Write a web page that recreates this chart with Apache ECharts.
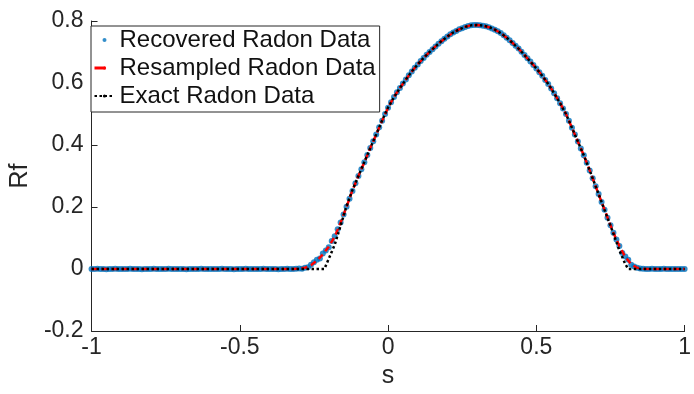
<!DOCTYPE html>
<html>
<head>
<meta charset="utf-8">
<script src="https://cdn.jsdelivr.net/npm/echarts@6/dist/echarts.min.js"></script>
<style>
html,body{margin:0;padding:0;background:#fff;}
#chart{width:694px;height:394px;}
</style>
</head>
<body>
<div id="chart"></div>
<script>
// ---- Data ----
const xTicks = [-1, -0.5, 0, 0.5, 1];
const yTicks = [-0.2, 0, 0.2, 0.4, 0.6, 0.8];

// Recovered Radon Data (blue dots)
const sRecovered = [
-1.00,-0.99,-0.98,-0.97,-0.96,-0.95,-0.94,-0.93,-0.92,-0.91,
-0.90,-0.89,-0.88,-0.87,-0.86,-0.85,-0.84,-0.83,-0.82,-0.81,
-0.80,-0.79,-0.78,-0.77,-0.76,-0.75,-0.74,-0.73,-0.72,-0.71,
-0.70,-0.69,-0.68,-0.67,-0.66,-0.65,-0.64,-0.63,-0.62,-0.61,
-0.60,-0.59,-0.58,-0.57,-0.56,-0.55,-0.54,-0.53,-0.52,-0.51,
-0.50,-0.49,-0.48,-0.47,-0.46,-0.45,-0.44,-0.43,-0.42,-0.41,
-0.40,-0.39,-0.38,-0.37,-0.36,-0.35,-0.34,-0.33,-0.32,-0.31,
-0.30,-0.29,-0.28,-0.27,-0.26,-0.25,-0.24,-0.23,-0.22,-0.21,
-0.20,-0.19,-0.18,-0.17,-0.16,-0.15,-0.14,-0.13,-0.12,-0.11,
-0.10,-0.09,-0.08,-0.07,-0.06,-0.05,-0.04,-0.03,-0.02,-0.01,
0.00,0.01,0.02,0.03,0.04,0.05,0.06,0.07,0.08,0.09,
0.10,0.11,0.12,0.13,0.14,0.15,0.16,0.17,0.18,0.19,
0.20,0.21,0.22,0.23,0.24,0.25,0.26,0.27,0.28,0.29,
0.30,0.31,0.32,0.33,0.34,0.35,0.36,0.37,0.38,0.39,
0.40,0.41,0.42,0.43,0.44,0.45,0.46,0.47,0.48,0.49,
0.50,0.51,0.52,0.53,0.54,0.55,0.56,0.57,0.58,0.59,
0.60,0.61,0.62,0.63,0.64,0.65,0.66,0.67,0.68,0.69,
0.70,0.71,0.72,0.73,0.74,0.75,0.76,0.77,0.78,0.79,
0.80,0.81,0.82,0.83,0.84,0.85,0.86,0.87,0.88,0.89,
0.90,0.91,0.92,0.93,0.94,0.95,0.96,0.97,0.98,0.99,
1.00];
const rfRecovered = [
0,0,0.001,0,0,-0.001,0,0,0.001,0,
0,0,0,0.001,0,0,0,-0.001,0,0,
0,0.001,0,0,0,0,0.001,0,0,0,
0,0,-0.001,0,0,0,0,0.001,0,0,
0,0,0,0,0.001,0,0,0,-0.001,0,
0,0,0.001,0,0,0,0,0,0.001,0,
0,0,0,-0.001,0,0,0.001,0,0,0.001,
0.002,0.001,0.004,0.006,0.014,0.022,0.030,0.034,0.050,0.060,
0.070,0.090,0.106,0.128,0.150,0.176,0.201,0.227,0.252,0.277,
0.300,0.322,0.344,0.368,0.390,0.412,0.434,0.457,0.478,0.500,
0.520,0.538,0.555,0.570,0.584,0.598,0.611,0.625,0.637,0.649,
0.660,0.671,0.681,0.691,0.700,0.709,0.718,0.727,0.735,0.743,
0.750,0.757,0.763,0.768,0.773,0.777,0.781,0.784,0.786,0.787,
0.787,0.786,0.785,0.783,0.780,0.776,0.772,0.767,0.761,0.754,
0.746,0.738,0.729,0.720,0.711,0.701,0.690,0.680,0.669,0.658,
0.647,0.635,0.623,0.610,0.597,0.582,0.567,0.551,0.535,0.518,
0.500,0.478,0.456,0.434,0.411,0.389,0.367,0.343,0.318,0.293,
0.267,0.242,0.216,0.191,0.165,0.141,0.117,0.095,0.074,0.052,
0.040,0.030,0.014,0.008,0.004,0.002,0.001,0,0,0.001,
0,0,0,0.001,0,0,0,0,0,0,
0];

// Resampled Radon Data (red dashed)
const sResampled = [-1,
-0.32,-0.30,-0.28,-0.26,-0.24,-0.22,-0.20,-0.18,-0.16,-0.14,
-0.12,-0.10,-0.08,-0.06,-0.04,-0.02,0.00,0.02,0.04,0.06,
0.08,0.10,0.12,0.14,0.16,0.18,0.20,0.22,0.24,0.26,
0.28,0.30,0.32,0.34,0.36,0.38,0.40,0.42,0.44,0.46,
0.48,0.50,0.52,0.54,0.56,0.58,0.60,0.62,0.64,0.66,
0.68,0.70,0.72,0.74,0.76,0.78,0.80,0.82,0.84,0.86,
0.88, 1];
const rfResampled = [0,
0,0.001,0.004,0.012,0.027,0.047,0.072,0.104,0.150,0.201,
0.254,0.300,0.344,0.390,0.434,0.478,0.520,0.555,0.584,0.611,
0.637,0.660,0.681,0.700,0.718,0.735,0.750,0.763,0.773,0.781,
0.786,0.787,0.785,0.780,0.772,0.761,0.746,0.729,0.711,0.690,
0.669,0.647,0.623,0.597,0.567,0.535,0.500,0.456,0.411,0.367,
0.318,0.267,0.216,0.166,0.117,0.074,0.039,0.015,0.004,0.001,
0, 0];

// Exact Radon Data (black dotted)
const sExact = [-1, -0.215,
-0.20,-0.18,-0.16,-0.14,-0.12,-0.10,-0.08,-0.06,-0.04,-0.02,
0.00,0.02,0.04,0.06,0.08,0.10,0.12,0.14,0.16,0.18,
0.20,0.22,0.24,0.26,0.28,0.30,0.32,0.34,0.36,0.38,
0.40,0.42,0.44,0.46,0.48,0.50,0.52,0.54,0.56,0.58,
0.60,0.62,0.64,0.66,0.68,0.70,0.72,0.74,0.76,0.78,
0.80, 0.81, 1];
const rfExact = [0, 0,
0.033,0.078,0.140,0.203,0.255,0.300,0.345,0.390,0.434,0.479,
0.521,0.554,0.584,0.611,0.637,0.660,0.681,0.700,0.718,0.735,
0.750,0.763,0.773,0.781,0.786,0.787,0.785,0.781,0.772,0.761,
0.746,0.729,0.711,0.690,0.669,0.647,0.623,0.597,0.567,0.535,
0.500,0.456,0.411,0.367,0.318,0.267,0.216,0.165,0.114,0.060,
0.016, 0, 0];

const zip = (a, b) => a.map((v, i) => [v, b[i]]);
const FONT = '"Liberation Sans", Arial, Helvetica, sans-serif';
const TXT = '#262626';
const fmt = v => String(Number(v.toFixed(2)));

const chart = echarts.init(document.getElementById('chart'), null, {renderer: 'canvas'});
chart.setOption({
  animation: false,
  backgroundColor: '#fff',
  textStyle: {fontFamily: FONT},
  grid: {left: 85, right: 3, top: 21, bottom: 56, containLabel: false},
  legend: {
    orient: 'vertical',
    left: 91, top: 26,
    padding: [2, 4, 4, 2],
    itemGap: 4,
    itemWidth: 20,
    itemHeight: 4,
    itemTextGap: 3,
    backgroundColor: '#fff',
    borderColor: TXT,
    borderWidth: 1,
    borderRadius: 0,
    textStyle: {fontSize: 24, color: '#111', fontFamily: FONT},
    data: [
      {name: 'Recovered Radon Data', icon: 'circle'},
      {name: 'Resampled Radon Data', lineStyle: {type: [11, 40], width: 3}},
      {name: 'Exact Radon Data'}
    ]
  },
  xAxis: {
    type: 'value', min: -1, max: 1, interval: 0.5,
    name: 's', nameLocation: 'middle', nameGap: 33,
    nameTextStyle: {fontSize: 25, color: TXT, fontFamily: FONT},
    axisLine: {show: true, onZero: false, lineStyle: {color: TXT, width: 1}},
    axisTick: {show: true, inside: true, length: 6, lineStyle: {color: TXT}},
    axisLabel: {fontSize: 23, color: TXT, margin: 5, formatter: fmt, fontFamily: FONT},
    splitLine: {show: false}
  },
  yAxis: {
    type: 'value', min: -0.2, max: 0.8, interval: 0.2,
    name: 'Rf', nameLocation: 'middle', nameGap: 54, nameRotate: 90,
    nameTextStyle: {fontSize: 25, color: TXT, fontFamily: FONT},
    axisLine: {show: true, onZero: false, lineStyle: {color: TXT, width: 1}},
    axisTick: {show: true, inside: true, length: 6, lineStyle: {color: TXT}},
    axisLabel: {fontSize: 23, color: TXT, margin: 8, formatter: fmt, fontFamily: FONT},
    splitLine: {show: false}
  },
  series: [
    {
      name: 'Recovered Radon Data', type: 'scatter',
      data: zip(sRecovered, rfRecovered),
      symbol: 'circle', symbolSize: 6,
      itemStyle: {color: '#0072BD'},
      z: 2
    },
    {
      name: 'Resampled Radon Data', type: 'line',
      data: zip(sResampled, rfResampled),
      showSymbol: false, symbol: 'none',
      lineStyle: {color: '#FF0000', width: 2.5, type: [6, 4]},
      itemStyle: {color: '#FF0000'},
      z: 3
    },
    {
      name: 'Exact Radon Data', type: 'line',
      data: zip(sExact, rfExact),
      showSymbol: false, symbol: 'none',
      lineStyle: {color: '#000', width: 2.5, type: [2.5, 2.5]},
      itemStyle: {color: '#000'},
      z: 4
    }
  ]
});
</script>
</body>
</html>
